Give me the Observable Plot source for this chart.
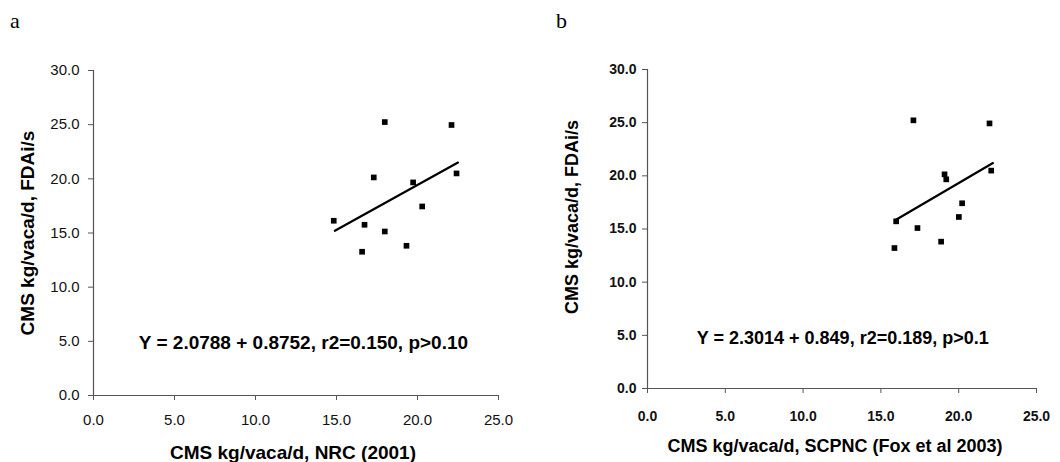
<!DOCTYPE html>
<html>
<head>
<meta charset="utf-8">
<script src="https://cdn.jsdelivr.net/npm/d3@7"></script>
<script src="https://cdn.jsdelivr.net/npm/@observablehq/plot@0.6"></script>
<style>
  html, body { margin: 0; padding: 0; background: #fff; }
  #wrap { position: relative; width: 1060px; height: 462px; overflow: hidden; }
  .panel { position: absolute; top: 0; }
  .letter { position: absolute; top: 8px; font-family: "Liberation Serif", "DejaVu Serif", serif; font-size: 22px; }
</style>
</head>
<body>
<div id="wrap">
  <div class="letter" style="left:10px">a</div>
  <div class="letter" style="left:556px">b</div>
  <div id="pa" class="panel" style="left:0px"></div>
  <div id="pb" class="panel" style="left:530px"></div>
</div>
<script>
// Panel a: NRC (2001) vs FDAi/s
const nrcX = [14.83, 16.58, 16.73, 17.30, 17.98, 17.98, 19.32, 19.73, 20.29, 22.10, 22.41];
const nrcY = [16.13, 13.27, 15.76, 20.13, 25.24, 15.14, 13.82, 19.67, 17.45, 24.97, 20.50];
const nrcLineX = [14.9, 22.5];
const nrcLineY = [15.2, 21.5];
const nrcEq = "Y = 2.0788 + 0.8752, r2=0.150, p>0.10";

// Panel b: SCPNC (Fox et al 2003) vs FDAi/s
const scpX = [15.87, 15.98, 17.09, 17.35, 18.87, 19.09, 19.20, 20.01, 20.22, 21.98, 22.09];
const scpY = [13.21, 15.72, 25.22, 15.09, 13.81, 20.14, 19.67, 16.13, 17.42, 24.93, 20.49];
const scpLineX = [16.0, 22.2];
const scpLineY = [15.9, 21.2];
const scpEq = "Y = 2.3014 + 0.849, r2=0.189, p>0.1";

const xTicks = [0, 5, 10, 15, 20, 25];
const yTicks = [0, 5, 10, 15, 20, 25, 30];
const yTitle = "CMS kg/vaca/d, FDAi/s";
const xTitleA = "CMS kg/vaca/d, NRC (2001)";
const xTitleB = "CMS kg/vaca/d, SCPNC (Fox et al 2003)";

function panel(opts) {
  const pts = opts.xs.map((x, i) => ({x, y: opts.ys[i]}));
  const line = opts.lx.map((x, i) => ({x, y: opts.ly[i]}));
  return Plot.plot({
    width: 530,
    height: 462,
    marginLeft: opts.ml,
    marginRight: opts.mr,
    marginTop: opts.mt,
    marginBottom: opts.mb,
    style: {fontFamily: "Liberation Sans, Arial, sans-serif", fontSize: "14px", background: "transparent", overflow: "visible"},
    x: {domain: [0, 25]},
    y: {domain: [0, 30]},
    marks: [
      Plot.ruleX([0], {stroke: "#555", strokeWidth: 1.2}),
      Plot.ruleY([0], {stroke: "#555", strokeWidth: 1.2}),
      Plot.axisX(xTicks, {tickSize: 5, tickPadding: opts.xpad, tickFormat: d => d.toFixed(1), stroke: "#555",
        fontSize: opts.tickSize, fontWeight: opts.tickWeight, fill: "#111", label: null}),
      Plot.axisY(yTicks, {tickSize: 5, tickPadding: opts.ypad, tickFormat: d => d.toFixed(1), stroke: "#555",
        fontSize: opts.tickSize, fontWeight: opts.tickWeight, fill: "#111", label: null}),
      Plot.line(line, {x: "x", y: "y", stroke: "#000", strokeWidth: 2.2}),
      Plot.dot(pts, {x: "x", y: "y", symbol: "square", r: 3.2, fill: "#000", stroke: null}),
      Plot.text([opts.eq], {x: opts.eqx, y: opts.eqy, fontSize: opts.eqSize, fontWeight: "bold", fill: "#000"}),
      Plot.text([yTitle], {frameAnchor: "left", textAnchor: "middle", lineAnchor: "middle", rotate: -90, dx: opts.ydx, dy: opts.ydy, fontSize: opts.titleSize, fontWeight: "bold", fill: "#000"}),
      Plot.text([opts.xTitle], {frameAnchor: "bottom", textAnchor: "middle", lineAnchor: "middle", dx: opts.xdx, dy: opts.xdy, fontSize: opts.titleSize, fontWeight: "bold", fill: "#000"})
    ]
  });
}

document.getElementById("pa").append(panel({
  xs: nrcX, ys: nrcY, lx: nrcLineX, ly: nrcLineY, eq: nrcEq, eqx: 12.96, eqy: 4.87,
  ml: 93, mr: 32, mt: 70, mb: 67, xpad: 14, ypad: 9, tickWeight: "normal", tickSize: 15,
  ydx: -66, ydy: 0, xdx: -3, xdy: 57, xTitle: xTitleA, eqSize: 19, titleSize: 19
}));
document.getElementById("pb").append(panel({
  xs: scpX, ys: scpY, lx: scpLineX, ly: scpLineY, eq: scpEq, eqx: 12.55, eqy: 4.7,
  ml: 117, mr: 24, mt: 69, mb: 74, xpad: 18, ypad: 6, tickWeight: "bold", tickSize: 14,
  ydx: -75, ydy: -12, xdx: -7, xdy: 58, xTitle: xTitleB, eqSize: 18, titleSize: 18
}));
</script>
</body>
</html>
